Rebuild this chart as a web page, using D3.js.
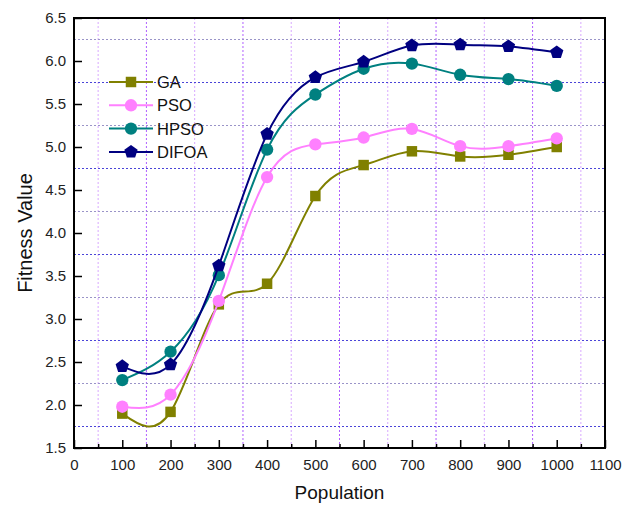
<!DOCTYPE html>
<meta charset="utf-8">
<style>
body {
  margin: 0;
  background: #fff;
  font-family: "Liberation Sans", Arial, sans-serif;
}
</style>
<body>
<script src="https://cdn.jsdelivr.net/npm/d3@7"></script>
<script>

var width = 634,
    height = 507;

var margin = {top: 18, right: 29, bottom: 59, left: 74};

// data
var population = [100, 200, 300, 400, 500, 600, 700, 800, 900, 1000];
var ga    = [1.90, 1.92, 3.17, 3.41, 4.43, 4.79, 4.95, 4.89, 4.91, 5.00];
var pso   = [1.98, 2.12, 3.21, 4.65, 5.03, 5.11, 5.21, 5.01, 5.01, 5.10];
var hpso  = [2.29, 2.62, 3.51, 4.97, 5.61, 5.91, 5.97, 5.84, 5.79, 5.71];
var difoa = [2.45, 2.47, 3.62, 5.15, 5.81, 5.99, 6.18, 6.19, 6.17, 6.10];

var xTicks = d3.range(0, 1101, 100);
var yTicks = [1.5, 2.0, 2.5, 3.0, 3.5, 4.0, 4.5, 5.0, 5.5, 6.0, 6.5];

var series = [
  {name: "GA",    values: ga,    color: "#808000", shape: d3.symbolSquare},
  {name: "PSO",   values: pso,   color: "#ff80ff", shape: d3.symbolCircle},
  {name: "HPSO",  values: hpso,  color: "#008080", shape: d3.symbolCircle},
  {name: "DIFOA", values: difoa, color: "#000080", shape: "pentagon"}
];

var x = d3.scaleLinear().domain([0, 1100]).range([margin.left, width - margin.right]);
var y = d3.scaleLinear().domain([1.5, 6.5]).range([height - margin.bottom, margin.top]);

var svg = d3.select("body").append("svg")
    .attr("width", width)
    .attr("height", height);

// grid (between the major ticks)
var grid = svg.append("g");
d3.range(50, 1100, 100).forEach(function(v, i) {
  grid.append("line")
      .attr("x1", x(v)).attr("x2", x(v))
      .attr("y1", y(6.5)).attr("y2", y(1.5))
      .attr("stroke", i % 2 ? "#b060ff" : "#d8a8ff")
      .attr("stroke-width", 1)
      .attr("stroke-dasharray", "2,2");
});
d3.range(1.75, 6.5, 0.5).forEach(function(v, i) {
  grid.append("line")
      .attr("x1", x(0)).attr("x2", x(1100))
      .attr("y1", y(v)).attr("y2", y(v))
      .attr("stroke", i % 2 ? "#9a94c8" : "#4a44d8")
      .attr("stroke-width", 1)
      .attr("stroke-dasharray", "2,2");
});

// axes, ticks pointing inward
var xAxis = svg.append("g")
    .attr("transform", "translate(0," + y(1.5) + ")")
    .call(d3.axisBottom(x).tickValues(xTicks).tickFormat(d3.format("d"))
      .tickSizeInner(-8).tickSizeOuter(0).tickPadding(11));
xAxis.select(".domain").remove();
xAxis.selectAll(".tick line").attr("stroke-width", 1.5);

var xMinor = svg.append("g")
    .attr("transform", "translate(0," + y(1.5) + ")")
    .call(d3.axisBottom(x).tickValues(d3.range(50, 1100, 100)).tickSize(-4).tickFormat(""));
xMinor.select(".domain").remove();
xMinor.selectAll(".tick line").attr("stroke-width", 1.5);

var yAxis = svg.append("g")
    .attr("transform", "translate(" + x(0) + ",0)")
    .call(d3.axisLeft(y).tickValues(yTicks).tickFormat(d3.format(".1f"))
      .tickSizeInner(-8).tickSizeOuter(0).tickPadding(8));
yAxis.select(".domain").remove();
yAxis.selectAll(".tick line").attr("stroke-width", 1.5);

svg.selectAll(".tick text")
    .attr("font-size", 15)
    .attr("font-family", "Liberation Sans, Arial, sans-serif")
    .attr("fill", "#222");

// frame
svg.append("rect")
    .attr("x", x(0)).attr("y", y(6.5))
    .attr("width", x(1100) - x(0))
    .attr("height", y(1.5) - y(6.5))
    .attr("fill", "none")
    .attr("stroke", "#000")
    .attr("stroke-width", 2);

var line = d3.line()
    .x(function(d, i) { return x(population[i]); })
    .y(function(d) { return y(d); })
    .curve(d3.curveNatural);

function pentagon(r) {
  var pts = d3.range(5).map(function(k) {
    var a = -Math.PI / 2 + k * 2 * Math.PI / 5;
    return [r * Math.cos(a), r * Math.sin(a)];
  });
  return "M" + pts.join("L") + "Z";
}

function marker(g, s) {
  if (s.shape === "pentagon") {
    return g.append("path").attr("d", pentagon(7));
  }
  var size = s.shape === d3.symbolSquare ? 110 : 120;
  return g.append("path").attr("d", d3.symbol().type(s.shape).size(size)());
}

series.forEach(function(s) {
  svg.append("path")
      .datum(s.values)
      .attr("fill", "none")
      .attr("stroke", s.color)
      .attr("stroke-width", 2)
      .attr("d", line);

  s.values.forEach(function(v, i) {
    var g = svg.append("g").attr("transform", "translate(" + x(population[i]) + "," + y(v) + ")");
    marker(g, s).attr("fill", s.color);
  });
});

// legend
var legend = svg.append("g").attr("transform", "translate(109,82)");
series.forEach(function(s, i) {
  var row = legend.append("g").attr("transform", "translate(0," + (i * 23.3) + ")");
  row.append("line")
      .attr("x1", 0).attr("x2", 44)
      .attr("stroke", s.color)
      .attr("stroke-width", 2);
  marker(row.append("g").attr("transform", "translate(22,0)"), s).attr("fill", s.color);
  row.append("text")
      .attr("x", 48)
      .attr("dy", "0.36em")
      .style("font-size", "16.5px")
      .attr("fill", "#111")
      .text(s.name);
});

// axis titles
svg.append("text")
    .attr("x", (x(0) + x(1100)) / 2)
    .attr("y", 499)
    .attr("text-anchor", "middle")
    .style("font-size", "19px")
    .attr("fill", "#111")
    .text("Population");

svg.append("text")
    .attr("transform", "translate(32," + ((y(1.5) + y(6.5)) / 2) + ") rotate(-90)")
    .attr("text-anchor", "middle")
    .style("font-size", "20px")
    .attr("fill", "#111")
    .text("Fitness Value");

</script>
